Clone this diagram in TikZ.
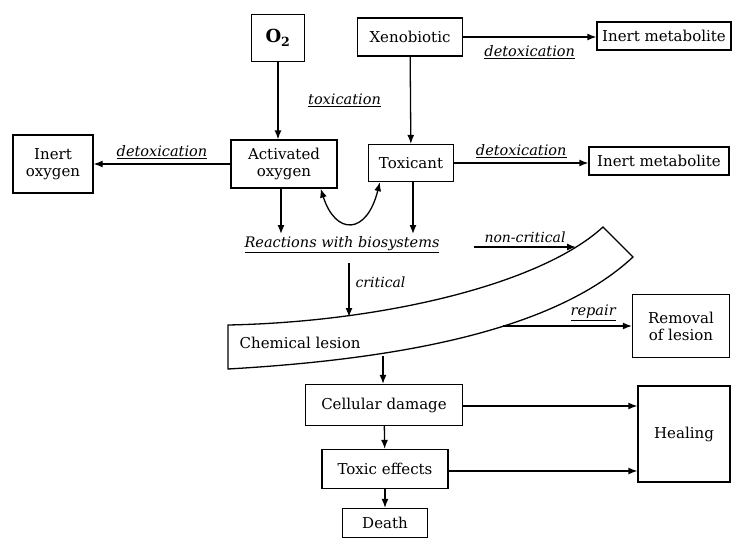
\documentclass[tikz,border=0pt]{standalone}
\usepackage{fontspec}
\setmainfont{DejaVu Serif}
\usetikzlibrary{arrows.meta}
\tikzset{
  flow/.style={-{Latex[length=9pt,width=7pt]}, line width=1.3pt},
  dflow/.style={{Latex[length=9pt,width=7pt]}-{Latex[length=9pt,width=7pt]}, line width=1.3pt},
  blk/.style={draw, line width=1.3pt, align=center, inner sep=3pt,
    font=\fontsize{15}{17}\selectfont},
  lbl/.style={font=\fontsize{14}{16}\selectfont\itshape, inner sep=2pt},
  ulbl/.style={font=\fontsize{14.5}{16}\selectfont\itshape, inner sep=2pt},
}
\newcommand{\undl}[1]{\underline{#1}}

\begin{document}
\begin{tikzpicture}[x=1pt,y=-1pt]
  \useasboundingbox (0,0) rectangle (732,538);
  % top row
  \node[blk, minimum width=53, minimum height=47, font=\fontsize{18}{20}\selectfont\bfseries] (oxy) at (278,38) {O\textsubscript{2}};
  \node[blk, minimum width=105, minimum height=38] (xeno) at (410,37) {Xenobiotic};
  \node[blk, minimum width=134, minimum height=28] (inm1) at (664,36) {Inert metabolite};
  % second row
  \node[blk, minimum width=80, minimum height=58] (inox) at (53,164) {Inert\\oxygen};
  \node[blk, minimum width=106, minimum height=48] (act) at (284,164) {Activated\\oxygen};
  \node[blk, minimum width=85, minimum height=37] (tox) at (411,163) {Toxicant};
  \node[blk, minimum width=140, minimum height=28] (inm2) at (659,161) {Inert metabolite};
  \node[ulbl] (react) at (342,245) {\undl{Reactions with biosystems}};
  % lesion band
  \draw[line width=1.3pt] (228,325) .. controls (380,322) and (540,285) .. (603,227)
    -- (633,257) .. controls (560,325) and (420,358) .. (228,369) -- cycle;
  \node[blk, draw=none, anchor=west] (lesion) at (236,343) {Chemical lesion};
  \coordinate (crit0) at (349,263);
  \coordinate (crit1) at (349,317);
  \coordinate (nc0) at (474,247);
  \coordinate (nc1) at (576,247);
  \coordinate (rep) at (503,326);
  \coordinate (les) at (383,356);
  \coordinate (dn) at (0,234);
  % lower part
  \node[blk, minimum width=97, minimum height=63] (remov) at (681,326) {Removal\\of lesion};
  \node[blk, minimum width=157, minimum height=41] (celd) at (384,405) {Cellular damage};
  \node[blk, minimum width=126, minimum height=39] (toxe) at (385,469) {Toxic effects};
  \node[blk, minimum width=85, minimum height=29] (death) at (385,523) {Death};
  \node[blk, minimum width=92, minimum height=96] (heal) at (684,434) {Healing};
  % connectors
  \draw[flow] (oxy.south) -- (oxy.south |- act.north);
  \draw[flow] (xeno) -- node[ulbl, left=27pt] {\undl{toxication}} (tox);
  \draw[flow] (xeno.east) -- node[ulbl, below=6pt] {\undl{detoxication}} (xeno.east -| inm1.west);
  \draw[flow] (act) -- node[ulbl, above=3pt] {\undl{detoxication}} (inox);
  \draw[flow] (tox) -- node[ulbl, above=3pt] {\undl{detoxication}} (tox -| inm2.west);
  \draw[dflow] ([xshift=-17pt]act.south east) .. controls +(15,47) and +(-13,53) .. ([xshift=12pt]tox.south west);
  \draw[flow] ([xshift=-3pt]act.south) -- ([xshift=-3pt]act.south |- dn);
  \draw[flow] ([xshift=2pt]tox.south) -- ([xshift=2pt]tox.south |- dn);
  \draw[flow] (nc0) -- node[lbl, above=2pt] {non-critical} (nc1);
  \draw[flow] (crit0) -- node[lbl, right=4pt, pos=0.35] {critical} (crit1);
  \draw[flow] (rep) -- node[ulbl, above=3pt, pos=0.7] {\undl{repair}} (rep -| remov.west);
  \draw[flow] (les) -- (les |- celd.north);
  \draw[flow] (celd) -- (toxe);
  \draw[flow] (toxe) -- (death);
  \draw[flow] ([yshift=-1pt]celd.east) -- ([yshift=-1pt]celd.east -| heal.west);
  \draw[flow] ([yshift=-2pt]toxe.east) -- ([yshift=-2pt]toxe.east -| heal.west);
\end{tikzpicture}
\end{document}
